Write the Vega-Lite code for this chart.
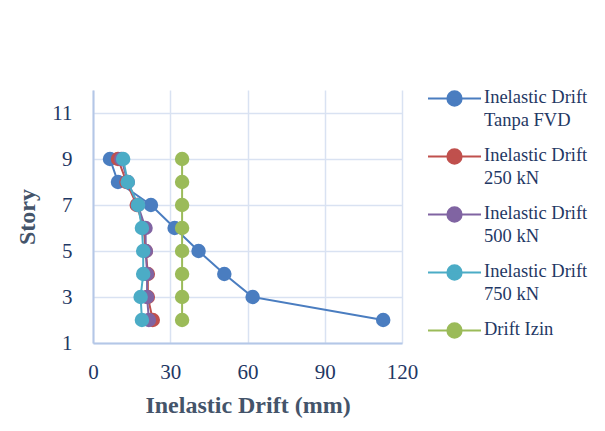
{
  "$schema": "https://vega.github.io/schema/vega-lite/v6.json",
  "width": 309,
  "height": 253,
  "autosize": "none",
  "padding": {"left": 93, "top": 90, "right": 203, "bottom": 88},
  "background": "white",
  "config": {"view": {"stroke": null}},
  "data": {"values": [
    {"series": "Inelastic Drift Tanpa FVD", "story": 2, "drift": 112.7},
    {"series": "Inelastic Drift Tanpa FVD", "story": 3, "drift": 62},
    {"series": "Inelastic Drift Tanpa FVD", "story": 4, "drift": 51},
    {"series": "Inelastic Drift Tanpa FVD", "story": 5, "drift": 41},
    {"series": "Inelastic Drift Tanpa FVD", "story": 6, "drift": 31.7},
    {"series": "Inelastic Drift Tanpa FVD", "story": 7, "drift": 22.5},
    {"series": "Inelastic Drift Tanpa FVD", "story": 8, "drift": 9.7},
    {"series": "Inelastic Drift Tanpa FVD", "story": 9, "drift": 6.6},
    {"series": "Inelastic Drift 250 kN", "story": 2, "drift": 23.2},
    {"series": "Inelastic Drift 250 kN", "story": 3, "drift": 21.3},
    {"series": "Inelastic Drift 250 kN", "story": 4, "drift": 21.3},
    {"series": "Inelastic Drift 250 kN", "story": 5, "drift": 20.5},
    {"series": "Inelastic Drift 250 kN", "story": 6, "drift": 19.7},
    {"series": "Inelastic Drift 250 kN", "story": 7, "drift": 17},
    {"series": "Inelastic Drift 250 kN", "story": 8, "drift": 13},
    {"series": "Inelastic Drift 250 kN", "story": 9, "drift": 9.7},
    {"series": "Inelastic Drift 500 kN", "story": 2, "drift": 21.7},
    {"series": "Inelastic Drift 500 kN", "story": 3, "drift": 21},
    {"series": "Inelastic Drift 500 kN", "story": 4, "drift": 21},
    {"series": "Inelastic Drift 500 kN", "story": 5, "drift": 20.5},
    {"series": "Inelastic Drift 500 kN", "story": 6, "drift": 20.4},
    {"series": "Inelastic Drift 500 kN", "story": 7, "drift": 17.4},
    {"series": "Inelastic Drift 500 kN", "story": 8, "drift": 13.5},
    {"series": "Inelastic Drift 500 kN", "story": 9, "drift": 11},
    {"series": "Inelastic Drift 750 kN", "story": 2, "drift": 19},
    {"series": "Inelastic Drift 750 kN", "story": 3, "drift": 18.5},
    {"series": "Inelastic Drift 750 kN", "story": 4, "drift": 19.5},
    {"series": "Inelastic Drift 750 kN", "story": 5, "drift": 19.5},
    {"series": "Inelastic Drift 750 kN", "story": 6, "drift": 19},
    {"series": "Inelastic Drift 750 kN", "story": 7, "drift": 17.5},
    {"series": "Inelastic Drift 750 kN", "story": 8, "drift": 13.5},
    {"series": "Inelastic Drift 750 kN", "story": 9, "drift": 11.7},
    {"series": "Drift Izin", "story": 2, "drift": 34.6},
    {"series": "Drift Izin", "story": 3, "drift": 34.6},
    {"series": "Drift Izin", "story": 4, "drift": 34.6},
    {"series": "Drift Izin", "story": 5, "drift": 34.6},
    {"series": "Drift Izin", "story": 6, "drift": 34.6},
    {"series": "Drift Izin", "story": 7, "drift": 34.6},
    {"series": "Drift Izin", "story": 8, "drift": 34.6},
    {"series": "Drift Izin", "story": 9, "drift": 34.6}
  ]},
  "mark": {"type": "line", "strokeWidth": 2, "point": {"filled": true, "size": 210, "opacity": 1}},
  "encoding": {
    "x": {
      "field": "drift", "type": "quantitative",
      "scale": {"domain": [0, 120], "nice": false, "zero": false},
      "axis": {
        "values": [0, 30, 60, 90, 120], "grid": true, "gridColor": "#D9E2F2", "gridWidth": 1.5,
        "domainColor": "#B4C7E7", "domainWidth": 2, "ticks": false, "labelFlush": false,
        "labelFont": "Liberation Serif", "labelFontSize": 21, "labelColor": "#1F3864", "labelPadding": 18,
        "title": "Inelastic Drift (mm)", "titleFont": "Liberation Serif", "titleFontSize": 24,
        "titleFontWeight": "bold", "titleColor": "#44546A", "titlePadding": 11
      }
    },
    "y": {
      "field": "story", "type": "quantitative",
      "scale": {"domain": [1, 12], "nice": false, "zero": false},
      "axis": {
        "values": [1, 3, 5, 7, 9, 11], "grid": true, "gridColor": "#D9E2F2", "gridWidth": 1.5,
        "domainColor": "#B4C7E7", "domainWidth": 2, "ticks": false, "labelFlush": false,
        "labelFont": "Liberation Serif", "labelFontSize": 21, "labelColor": "#1F3864", "labelPadding": 21,
        "title": "Story", "titleFont": "Liberation Serif", "titleFontSize": 24,
        "titleFontWeight": "bold", "titleColor": "#44546A", "titlePadding": 12
      }
    },
    "order": {"field": "story", "type": "quantitative"},
    "color": {
      "field": "series", "type": "nominal",
      "scale": {
        "domain": ["Inelastic Drift Tanpa FVD", "Inelastic Drift 250 kN", "Inelastic Drift 500 kN", "Inelastic Drift 750 kN", "Drift Izin"],
        "range": ["#4A7DC0", "#C0504D", "#8064A2", "#4BACC6", "#9BBB59"]
      },
      "legend": {
        "orient": "none", "legendX": 334, "legendY": -19, "title": null,
        "symbolType": "M-1,0H1M0.27,0A0.27,0.27,0,1,1,-0.27,0A0.27,0.27,0,1,1,0.27,0Z",
        "symbolSize": 2809, "symbolStrokeWidth": 2,
        "labelFont": "Liberation Serif", "labelFontSize": 18.5, "labelColor": "#1F3864",
        "labelBaseline": "top", "labelOffset": 2, "rowPadding": -1.5, "labelLimit": 220,
        "labelExpr": "datum.label == 'Drift Izin' ? datum.label : ['Inelastic Drift', substring(datum.label, 16)]",
        "encode": {
          "symbols": {"update": {
            "fill": {"scale": "color", "field": "value"},
            "stroke": {"scale": "color", "field": "value"},
            "opacity": {"value": 1}
          }},
          "labels": {"update": {"dy": {"value": -11}, "lineHeight": {"value": 23}}}
        }
      }
    }
  }
}
